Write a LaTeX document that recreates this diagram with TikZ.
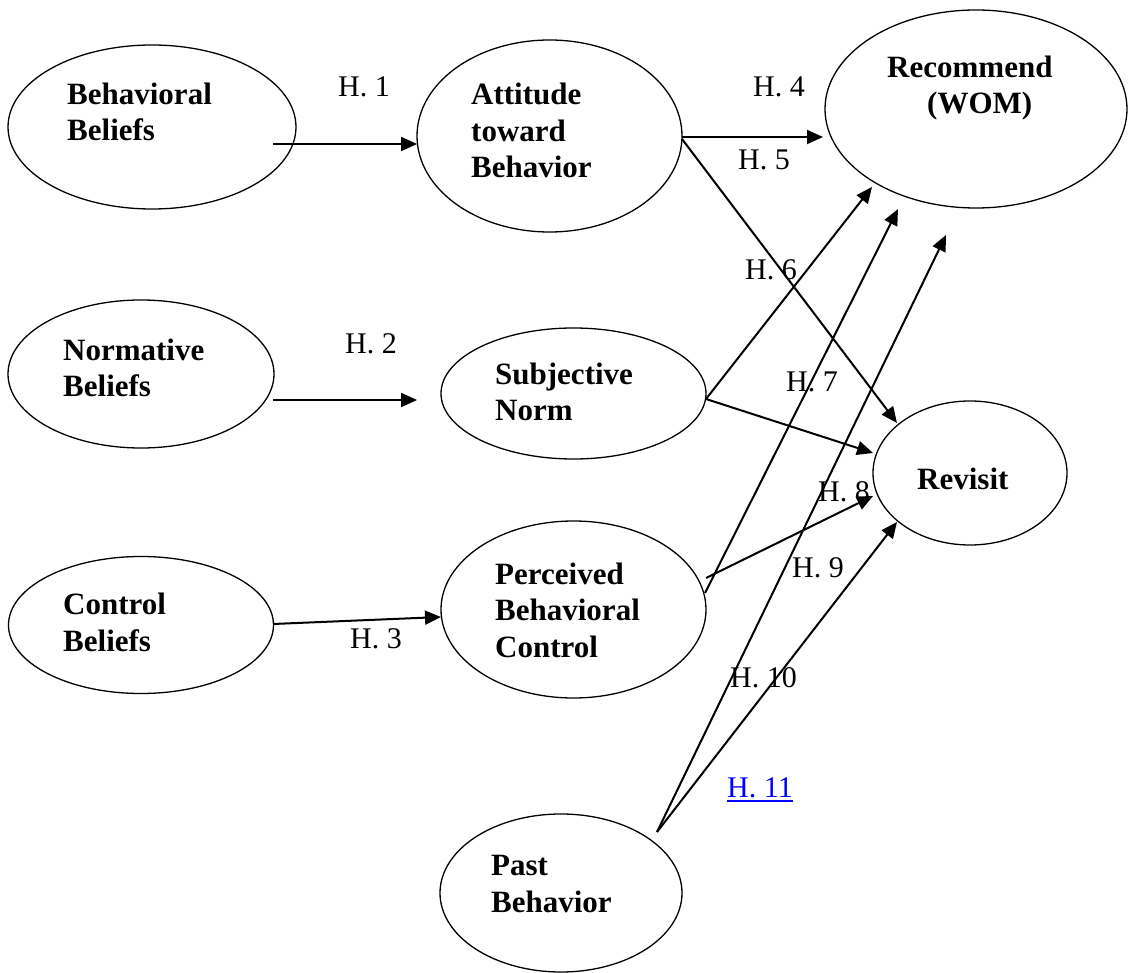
\documentclass[tikz,border=0pt]{standalone}
\usepackage{fontspec}
\setmainfont{Liberation Serif}
\usetikzlibrary{shapes.geometric,arrows.meta}
\definecolor{linkblue}{RGB}{0,0,255}
\begin{document}
\begin{tikzpicture}[x=1pt,y=-1pt,
  oval/.style={draw, ellipse, line width=1.3pt, inner sep=0pt},
  ctext/.style={font=\fontsize{31}{36.5}\selectfont\bfseries, align=left, anchor=base west, inner sep=0pt},
  hlab/.style={font=\fontsize{30}{34}\selectfont, anchor=base west, inner sep=0pt},
  arr/.style={line width=2pt, -{Triangle[length=16pt,width=14pt]}},
]
\useasboundingbox (0,0) rectangle (1128,973);
% ellipses
\node[oval, minimum width=288pt, minimum height=164pt] (bb)   at (152,127) {};
\node[oval, minimum width=265pt, minimum height=192pt] (att)  at (549.5,136) {};
\node[oval, minimum width=302pt, minimum height=198pt] (rec)  at (976,109) {};
\node[oval, minimum width=266pt, minimum height=148pt] (nb)   at (141,374) {};
\node[oval, minimum width=265pt, minimum height=131pt] (sn)   at (573.5,393.5) {};
\node[oval, minimum width=194pt, minimum height=144pt] (rev)  at (970,473) {};
\node[oval, minimum width=265pt, minimum height=137pt] (cb)   at (141,625) {};
\node[oval, minimum width=265pt, minimum height=177pt] (pbc)  at (573.5,609.5) {};
\node[oval, minimum width=242pt, minimum height=158pt] (past) at (561,893) {};
% texts (anchor = baseline of the last line)
\node[ctext] (tbb)   at (67,141)  {Behavioral\\Beliefs};
\node[ctext] (tatt)  at (471,178) {Attitude\\toward\\Behavior};
\node[ctext] (trec)  at (887,114) {Recommend\\\hspace*{40pt}(WOM)};
\node[ctext] (tnb)   at (63,397)  {Normative\\Beliefs};
\node[ctext] (tsn)   at (495,421) {Subjective\\Norm};
\node[ctext] (trev)  at (917,490) {Revisit};
\node[ctext] (tcb)   at (63,651)  {Control\\Beliefs};
\node[ctext] (tpbc)  at (495,657) {Perceived\\Behavioral\\Control};
\node[ctext] (tpast) at (491,912) {Past\\Behavior};
% connector end points
\coordinate (h1a) at (273,144);  \coordinate (h1b) at (417,144);
\coordinate (h2a) at (273,400);  \coordinate (h2b) at (417,400);
\coordinate (h3a) at (273,624);  \coordinate (h3b) at (441,617);
\coordinate (attA) at (682,137); \coordinate (attB) at (682,139);
\coordinate (h4b) at (823,137);
\coordinate (h6b) at (897,423);
\coordinate (snA) at (706,399);
\coordinate (snRec) at (872,187);
\coordinate (snRev) at (873,453);
\coordinate (pbcA) at (706,578); \coordinate (pbcB) at (705,593);
\coordinate (pbcRev) at (873,496);
\coordinate (pbcRec) at (898,209);
\coordinate (pastA) at (657,832);
\coordinate (pastRec) at (946,235);
\coordinate (pastRev) at (897,522);
% connectors
\draw[arr] (h1a) -- (h1b);
\draw[arr] (h2a) -- (h2b);
\draw[arr] (h3a) -- (h3b);
\draw[arr] (attA) -- (h4b);
\draw[arr] (attB) -- (h6b);
\draw[arr] (snA) -- (snRec);
\draw[arr] (snA) -- (snRev);
\draw[arr] (pbcA) -- (pbcRev);
\draw[arr] (pbcB) -- (pbcRec);
\draw[arr] (pastA) -- (pastRec);
\draw[arr] (pastA) -- (pastRev);
% labels
\node[hlab] (l1)  at (338,97)  {H. 1};
\node[hlab] (l2)  at (345,354) {H. 2};
\node[hlab] (l3)  at (350,648) {H. 3};
\node[hlab] (l4)  at (753,97)  {H. 4};
\node[hlab] (l5)  at (738,170) {H. 5};
\node[hlab] (l6)  at (745,280) {H. 6};
\node[hlab] (l7)  at (786,392) {H. 7};
\node[hlab] (l8)  at (818,502) {H. 8};
\node[hlab] (l9)  at (792,577) {H. 9};
\node[hlab] (l10) at (730,687) {H. 10};
\node[hlab, text=linkblue] (l11) at (727,797) {H. 11};
\draw[linkblue, line width=1.5pt] ([yshift=-4pt]l11.base west) -- ([yshift=-4pt]l11.base east);
\end{tikzpicture}
\end{document}
